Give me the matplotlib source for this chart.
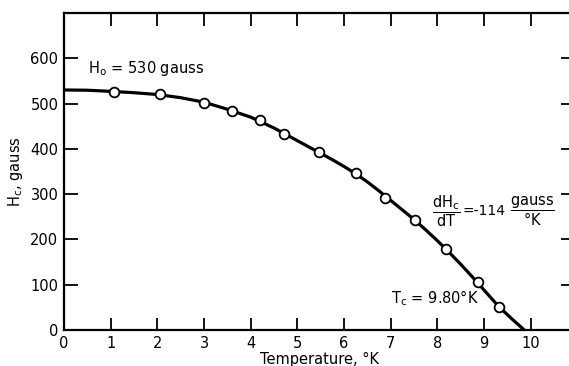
import numpy as np
import matplotlib
matplotlib.use("Agg")
import matplotlib.pyplot as plt

# measured points (temperature K, critical field gauss)
temp_pts = [1.08, 2.05, 2.99, 3.59, 4.19, 4.71, 5.46, 6.26, 6.87, 7.52, 8.18, 8.87, 9.32]
hc_pts = [526, 521, 502, 484, 463, 432, 394, 347, 291, 242, 178, 105, 51]

# smooth curve drawn through the points
temp_curve = [0.0, 0.5, 1.0, 1.5, 2.0, 2.5, 3.0, 3.5, 4.0, 4.5, 5.0, 5.5, 5.75, 6.0,
              6.25, 6.5, 6.75, 7.0, 7.25, 7.5, 7.75, 8.0, 8.25, 8.5, 8.75, 9.0,
              9.32, 9.6, 9.86]
hc_curve = [530, 529.5, 527, 524, 520, 513, 503, 487.5, 470, 446, 418, 390, 376, 361,
            345, 327, 307, 286, 265, 244, 221, 197, 171.5, 145, 117, 88,
            51, 24, 0]

xticks = list(range(0, 11))
yticks = [0, 100, 200, 300, 400, 500, 600]

fig = plt.figure(figsize=(5.69, 3.66), dpi=100)
ax = fig.add_axes([64/569, 36/366, 1 - 64/569 + 0.01, 317/366])

ax.plot(temp_curve, hc_curve, color="black", lw=2.3, zorder=2)
ax.plot(temp_pts, hc_pts, "o", ms=7, mfc="white", mec="black", mew=1.3, zorder=3)

ax.set_xlim(0, 10.94)
ax.set_ylim(0, 700)
ax.set_xticks(xticks)
ax.set_yticks(yticks)
ax.tick_params(direction="in", length=10, width=1.3, labelsize=10.5,
               top=True, right=True, pad=4)
ax.tick_params(axis="x", length=9)
for s in ax.spines.values():
    s.set_linewidth(1.6)

ax.set_xlabel("Temperature, °K", fontsize=10.5, labelpad=1)
ax.set_ylabel(r"H$_\mathrm{c}$, gauss", fontsize=10.5, labelpad=4)

ax.text(0.52, 577, r"H$_\mathrm{o}$ = 530 gauss", fontsize=10.5, va="center", ha="left")

# slope annotation: two fractions and the value
ax.text(8.18, 262, r"$\dfrac{\mathrm{dH_c}}{\mathrm{dT}}$",
        fontsize=10.5, va="center", ha="center")
ax.text(8.54, 262, "=-114", fontsize=10, va="center", ha="left")
ax.text(10.04, 262, r"$\dfrac{\mathrm{gauss}}{°\mathrm{K}}$",
        fontsize=10.5, va="center", ha="center")

ax.text(7.0, 70, r"T$_\mathrm{c}$ = 9.80°K", fontsize=10.5, va="center", ha="left")

fig.savefig("out.png", dpi=100)
